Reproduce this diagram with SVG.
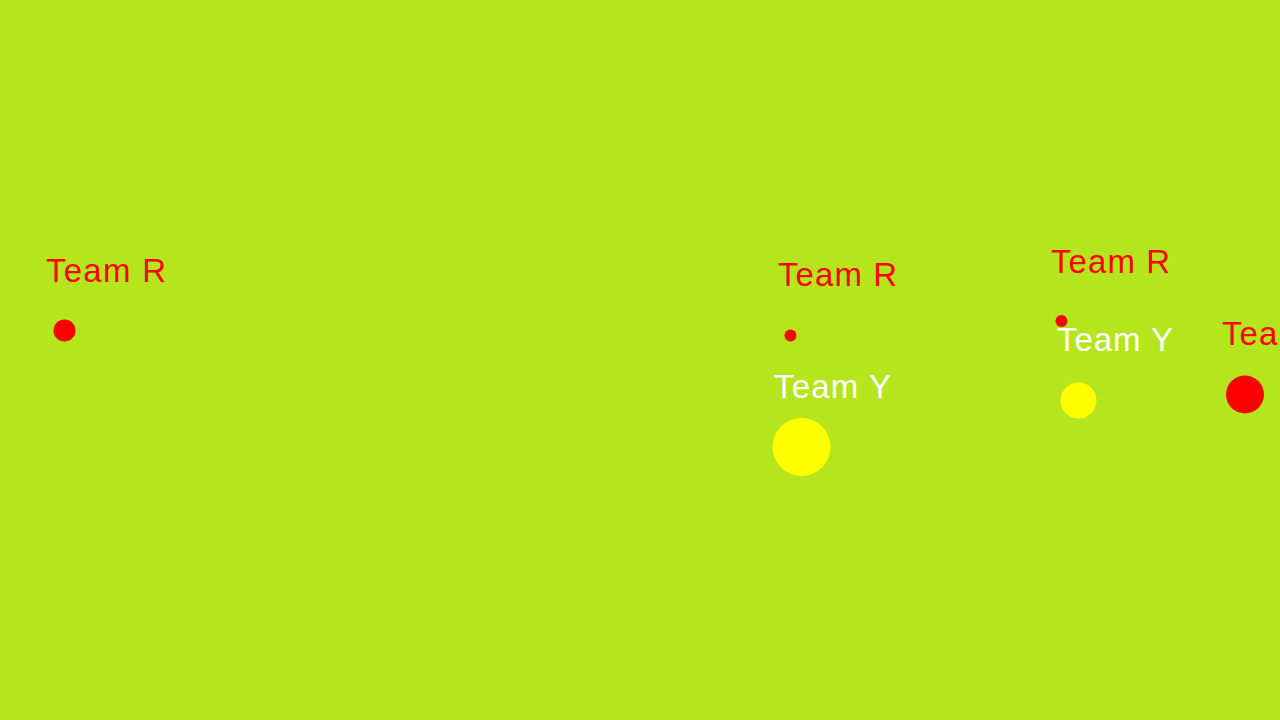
<svg xmlns="http://www.w3.org/2000/svg" width="1280" height="720" viewBox="0 0 1280 720">
<style>
.lbl{font-family:"Liberation Sans","DejaVu Sans",sans-serif;font-size:33px}
.r{fill:#FF0000}
.y{fill:#FFFF00}
.w{fill:#FFFFFF}
</style>
<rect width="1280" height="720" fill="#B5E61D"/>
<g id="node-r1">
<text class="lbl r" x="46" y="282" textLength="120" lengthAdjust="spacing">Team R</text>
<circle class="r" cx="64.5" cy="330.5" r="11"/>
</g>
<g id="node-r2">
<text class="lbl r" x="778" y="286" textLength="119" lengthAdjust="spacing">Team R</text>
<circle class="r" cx="790.5" cy="335.5" r="6"/>
</g>
<g id="node-y1">
<text class="lbl w" x="774" y="398" textLength="117" lengthAdjust="spacing">Team Y</text>
<circle class="y" cx="801.5" cy="447" r="29"/>
</g>
<g id="node-r3">
<text class="lbl r" x="1051" y="273" textLength="119" lengthAdjust="spacing">Team R</text>
<circle class="r" cx="1061.5" cy="321" r="6"/>
</g>
<g id="node-y2">
<text class="lbl w" x="1057" y="351" textLength="116" lengthAdjust="spacing">Team Y</text>
<circle class="y" cx="1078.5" cy="400.5" r="18"/>
</g>
<g id="node-r4">
<text class="lbl r" x="1222" y="345" textLength="119" lengthAdjust="spacing">Team R</text>
<circle class="r" cx="1245" cy="394.5" r="19"/>
</g>
<g id="connectors"/>
</svg>
